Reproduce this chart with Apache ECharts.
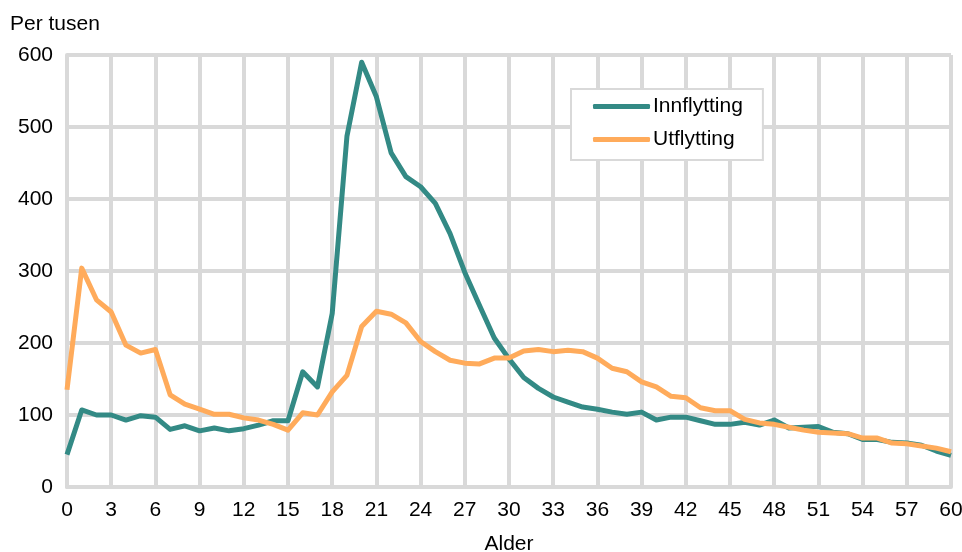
<!DOCTYPE html>
<html>
<head>
<meta charset="utf-8">
<script src="https://cdn.jsdelivr.net/npm/echarts@6/dist/echarts.min.js"></script>
<style>
  html, body { margin: 0; padding: 0; background: #fff; }
  #main { width: 962px; height: 552px; }
</style>
</head>
<body>
<div id="main"></div>
<script>
// alder 0-60
var ages = [];
for (var a = 0; a <= 60; a++) { ages.push(a); }

var innflytting = [45, 107, 100, 100, 93, 99, 97, 80, 85, 78,
  82, 78, 81, 86, 92, 92, 160, 139, 241, 487,
  590, 542, 464, 431, 417, 394, 352, 298, 252, 207,
  178, 152, 137, 125, 118, 111, 108, 104, 101, 104,
  93, 97, 97, 92, 87, 87, 90, 86, 93, 82,
  83, 84, 76, 74, 66, 66, 62, 61, 58, 50, 44];

var utflytting = [135, 304, 260, 243, 197, 186, 191, 128, 115, 108,
  101, 101, 96, 93, 87, 79, 103, 100, 132, 155,
  223, 244, 240, 228, 202, 188, 176, 172, 171, 179,
  179, 189, 191, 188, 190, 188, 179, 165, 160, 146,
  139, 126, 124, 110, 106, 106, 94, 89, 87, 83,
  79, 76, 75, 74, 68, 68, 61, 60, 57, 54, 49];

function pairs(vals) {
    var out = [];
    for (var i = 0; i < ages.length; i++) {
        out.push([ages[i], vals[i]]);
    }
    return out;
}

var myChart = echarts.init(document.getElementById('main'));
var gridColor = '#d9d9d9';
var font = 'Liberation Sans, Arial, sans-serif';

var option = {
    animation: false,
    textStyle: { fontFamily: font },
    grid: { left: 67, right: 11, top: 55, bottom: 65, containLabel: false, outerBoundsMode: 'none' },
    legend: {
        orient: 'vertical',
        left: 571,
        top: 89,
        padding: [7, 20, 10, 22],
        itemGap: 12,
        itemWidth: 57,
        itemHeight: 5,
        backgroundColor: '#fff',
        borderColor: gridColor,
        borderWidth: 2,
        textStyle: { fontFamily: font, fontSize: 21, lineHeight: 21, color: '#000', padding: [0, 0, 0, -2] },
        data: [
            { name: 'Innflytting', icon: 'roundRect' },
            { name: 'Utflytting', icon: 'roundRect' }
        ]
    },
    xAxis: {
        type: 'value',
        min: 0,
        max: 60,
        interval: 3,
        name: 'Alder',
        nameLocation: 'middle',
        nameGap: 47,
        nameTextStyle: { fontSize: 21, color: '#000' },
        axisLine: { show: true, lineStyle: { color: gridColor, width: 4 } },
        axisTick: { show: false },
        axisLabel: { fontSize: 21, color: '#000', margin: 13 },
        splitLine: { show: true, lineStyle: { color: gridColor, width: 4 } }
    },
    yAxis: {
        type: 'value',
        min: 0,
        max: 600,
        interval: 100,
        name: 'Per tusen',
        nameLocation: 'end',
        nameGap: 20,
        nameTextStyle: { fontSize: 21, color: '#000', align: 'left', padding: [0, 0, 0, -57] },
        axisLine: { show: true, lineStyle: { color: gridColor, width: 4 } },
        axisTick: { show: false },
        axisLabel: { fontSize: 21, color: '#000', margin: 14 },
        splitLine: { show: true, lineStyle: { color: gridColor, width: 4 } }
    },
    series: [
        {
            name: 'Innflytting',
            type: 'line',
            data: pairs(innflytting),
            symbol: 'none',
            color: '#338a85',
            lineStyle: { width: 5, color: '#338a85', join: 'round' },
            z: 3
        },
        {
            name: 'Utflytting',
            type: 'line',
            data: pairs(utflytting),
            symbol: 'none',
            color: '#ffab5b',
            lineStyle: { width: 5, color: '#ffab5b', join: 'round' },
            z: 4
        }
    ]
};
myChart.setOption(option);
</script>
</body>
</html>
